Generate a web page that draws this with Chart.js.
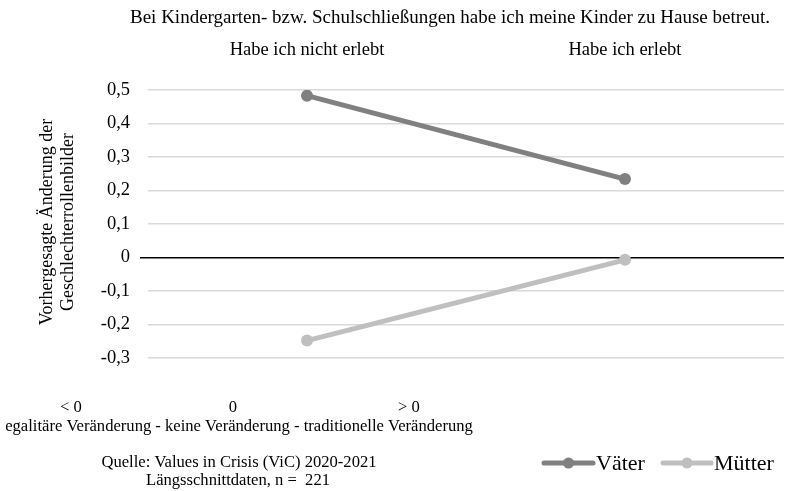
<!DOCTYPE html>
<html>
<head>
<meta charset="utf-8">
<script src="https://cdn.jsdelivr.net/npm/chart.js@4.4.0/dist/chart.umd.min.js"></script>
<style>
html,body{margin:0;padding:0;background:#fff;}
#wrap{width:786px;height:491px;position:relative;}
</style>
</head>
<body>
<div id="wrap"><canvas id="c" width="786" height="491"></canvas></div>
<script>
const categories = ["Habe ich nicht erlebt", "Habe ich erlebt"];
const vaeterValues = [0.483, 0.234];
const muetterValues = [-0.248, -0.007];
const seriesNames = ["Väter", "Mütter"];
const titleText = "Bei Kindergarten- bzw. Schulschließungen habe ich meine Kinder zu Hause betreut.";
const yTitleLines = ["Vorhergesagte Änderung der", "Geschlechterrollenbilder"];
const scaleMarks = ["< 0", "0", "> 0"];
const scaleText = "egalitäre Veränderung - keine Veränderung - traditionelle Veränderung";
const sourceLines = ["Quelle: Values in Crisis (ViC) 2020-2021", "Längsschnittdaten, n =  221"];

const FONT = "'Liberation Serif', 'Times New Roman', serif";
const colors = ["#808080", "#bfbfbf"];

const textPlugin = {
  id: 'texts',
  afterDraw(chart) {
    const ctx = chart.ctx;
    const ca = chart.chartArea;
    ctx.save();
    ctx.fillStyle = '#000';
    ctx.textBaseline = 'middle';
    // title
    ctx.font = "19px " + FONT;
    ctx.textAlign = 'center';
    ctx.fillText(titleText, 450, 18);
    // y title
    ctx.save();
    ctx.font = "18px " + FONT;
    ctx.translate(57, (ca.top + ca.bottom) / 2 - 2);
    ctx.rotate(-Math.PI / 2);
    ctx.fillText(yTitleLines[0], 0, -10);
    ctx.fillText(yTitleLines[1], 0, 11);
    ctx.restore();
    // scale marks
    ctx.font = "16.6px " + FONT;
    ctx.fillText(scaleMarks[0], 71, 408);
    ctx.fillText(scaleMarks[1], 233, 408);
    ctx.fillText(scaleMarks[2], 409, 408);
    ctx.fillText(scaleText, 239, 427);
    ctx.fillText(sourceLines[0], 239, 463);
    ctx.fillText(sourceLines[1], 238, 481);
    // legend
    const items = [
      {x0: 544, x1: 593, tx: 596, label: seriesNames[0], color: colors[0]},
      {x0: 663, x1: 711, tx: 714, label: seriesNames[1], color: colors[1]}
    ];
    const ly = 463;
    items.forEach(it => {
      ctx.strokeStyle = it.color;
      ctx.lineWidth = 5;
      ctx.lineCap = 'round';
      ctx.beginPath();
      ctx.moveTo(it.x0, ly);
      ctx.lineTo(it.x1, ly);
      ctx.stroke();
      ctx.fillStyle = it.color;
      ctx.beginPath();
      ctx.arc((it.x0 + it.x1) / 2, ly, 5.5, 0, Math.PI * 2);
      ctx.fill();
      ctx.fillStyle = '#000';
      ctx.font = "22px " + FONT;
      ctx.textAlign = 'left';
      ctx.fillText(it.label, it.tx, ly + 1);
    });
    ctx.restore();
  }
};

new Chart(document.getElementById('c'), {
  type: 'line',
  data: {
    labels: categories,
    datasets: [
      {label: seriesNames[0], data: vaeterValues, borderColor: colors[0], backgroundColor: colors[0],
       borderWidth: 5, pointRadius: 6, pointHoverRadius: 6, pointBackgroundColor: colors[0], pointBorderWidth: 0},
      {label: seriesNames[1], data: muetterValues, borderColor: colors[1], backgroundColor: colors[1],
       borderWidth: 5, pointRadius: 6, pointHoverRadius: 6, pointBackgroundColor: colors[1], pointBorderWidth: 0}
    ]
  },
  options: {
    responsive: false,
    animation: false,
    events: [],
    layout: {autoPadding: false, padding: {top: 0, left: 0, right: 2, bottom: 133}},
    plugins: {legend: {display: false}, tooltip: {enabled: false}, title: {display: false}},
    scales: {
      x: {
        type: 'category',
        position: 'top',
        offset: true,
        grid: {display: false, drawTicks: false},
        border: {display: false},
        ticks: {color: '#000', font: {family: FONT, size: 18.5}, padding: 29, maxRotation: 0},
        afterFit(scale) { scale.height = 90; }
      },
      y: {
        min: -0.3, max: 0.5,
        grid: {
          color: ctx => (Math.abs(ctx.tick.value) < 1e-9 ? '#000' : '#d9d9d9'),
          lineWidth: 1.5,
          tickColor: ctx => (Math.abs(ctx.tick.value) < 1e-9 ? '#000' : 'rgba(0,0,0,0)'),
          tickLength: 8
        },
        border: {display: false},
        ticks: {
          stepSize: 0.1,
          color: '#000',
          padding: 10,
          font: {family: FONT, size: 18.5},
          callback: v => { const r = Math.round(v * 10) / 10; return r === 0 ? '0' : r.toFixed(1).replace('.', ','); }
        },
        afterFit(scale) { scale.width = 148; }
      }
    }
  },
  plugins: [textPlugin]
});
</script>
</body>
</html>
